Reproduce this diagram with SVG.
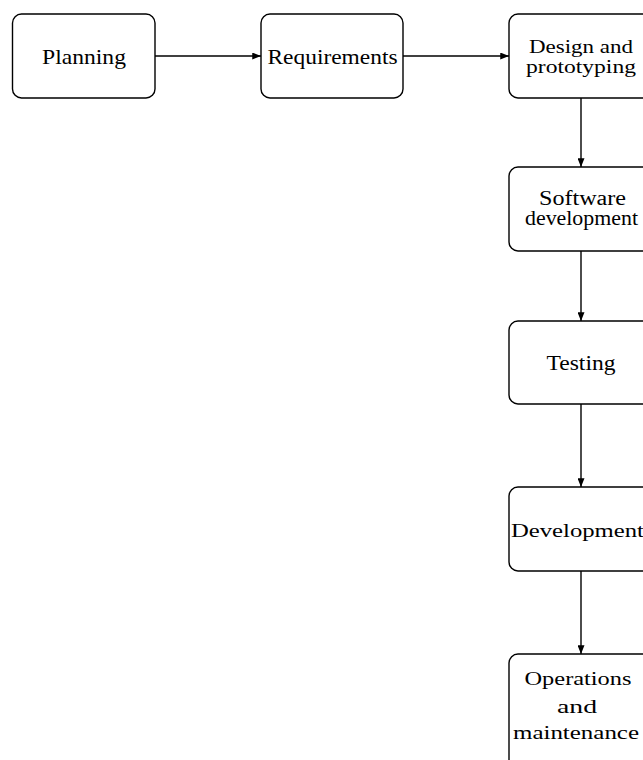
<svg xmlns="http://www.w3.org/2000/svg" width="643" height="760" viewBox="0 0 643 760">
  <style>
    .box { fill: #ffffff; stroke: #000000; stroke-width: 1.4; }
    .lbl { font-family: "Liberation Serif", "Times New Roman", serif; fill: #000000; text-anchor: middle; }
    .link { fill: none; stroke: #000000; stroke-width: 1.4; marker-end: url(#tip); }
  </style>
  <defs>
    <marker id="tip" viewBox="0 0 10 8" refX="10" refY="4" markerUnits="userSpaceOnUse" markerWidth="9" markerHeight="7" orient="auto">
      <path d="M0,0 L10,4 L0,8 Z" fill="#000000"/>
    </marker>
  </defs>

  <rect width="643" height="760" fill="#ffffff"/>

  <!-- connectors between the process steps -->
  <g id="connectors">
    <line class="link" x1="155" y1="56" x2="261" y2="56"/>
    <line class="link" x1="403" y1="56" x2="509" y2="56"/>
    <line class="link" x1="581" y1="98" x2="581" y2="167"/>
    <line class="link" x1="581" y1="251" x2="581" y2="321"/>
    <line class="link" x1="581" y1="404" x2="581" y2="487"/>
    <line class="link" x1="581" y1="571" x2="581" y2="654"/>
  </g>

  <g id="planning">
    <rect class="box" x="12.5" y="14" width="142.5" height="84" rx="9"/>
    <text class="lbl" x="84" y="63.5" font-size="22" textLength="84" lengthAdjust="spacingAndGlyphs">Planning</text>
  </g>

  <g id="requirements">
    <rect class="box" x="261" y="14" width="142" height="84" rx="9"/>
    <text class="lbl" x="332.5" y="63.5" font-size="22" textLength="130" lengthAdjust="spacingAndGlyphs">Requirements</text>
  </g>

  <g id="design">
    <rect class="box" x="509" y="14" width="144" height="84" rx="9"/>
    <text class="lbl" x="581" y="52.5" font-size="19" textLength="104" lengthAdjust="spacingAndGlyphs">Design and</text>
    <text class="lbl" x="581" y="73" font-size="19" textLength="110" lengthAdjust="spacingAndGlyphs">prototyping</text>
  </g>

  <g id="software">
    <rect class="box" x="509" y="167" width="144" height="84" rx="9"/>
    <text class="lbl" x="582.5" y="205" font-size="20" textLength="87" lengthAdjust="spacingAndGlyphs">Software</text>
    <text class="lbl" x="581.5" y="225" font-size="20" textLength="113" lengthAdjust="spacingAndGlyphs">development</text>
  </g>

  <g id="testing">
    <rect class="box" x="509" y="321" width="144" height="83" rx="9"/>
    <text class="lbl" x="581" y="370" font-size="22" textLength="69" lengthAdjust="spacingAndGlyphs">Testing</text>
  </g>

  <g id="development">
    <rect class="box" x="509" y="487" width="144" height="84" rx="9"/>
    <text class="lbl" x="577.5" y="537" font-size="18" textLength="133" lengthAdjust="spacingAndGlyphs">Development</text>
  </g>

  <g id="operations">
    <rect class="box" x="509" y="654" width="144" height="116" rx="9"/>
    <text class="lbl" x="578" y="685" font-size="18" textLength="107" lengthAdjust="spacingAndGlyphs">Operations</text>
    <text class="lbl" x="577" y="712.5" font-size="18" textLength="40" lengthAdjust="spacingAndGlyphs">and</text>
    <text class="lbl" x="576" y="738.5" font-size="18" textLength="126" lengthAdjust="spacingAndGlyphs">maintenance</text>
  </g>
</svg>
